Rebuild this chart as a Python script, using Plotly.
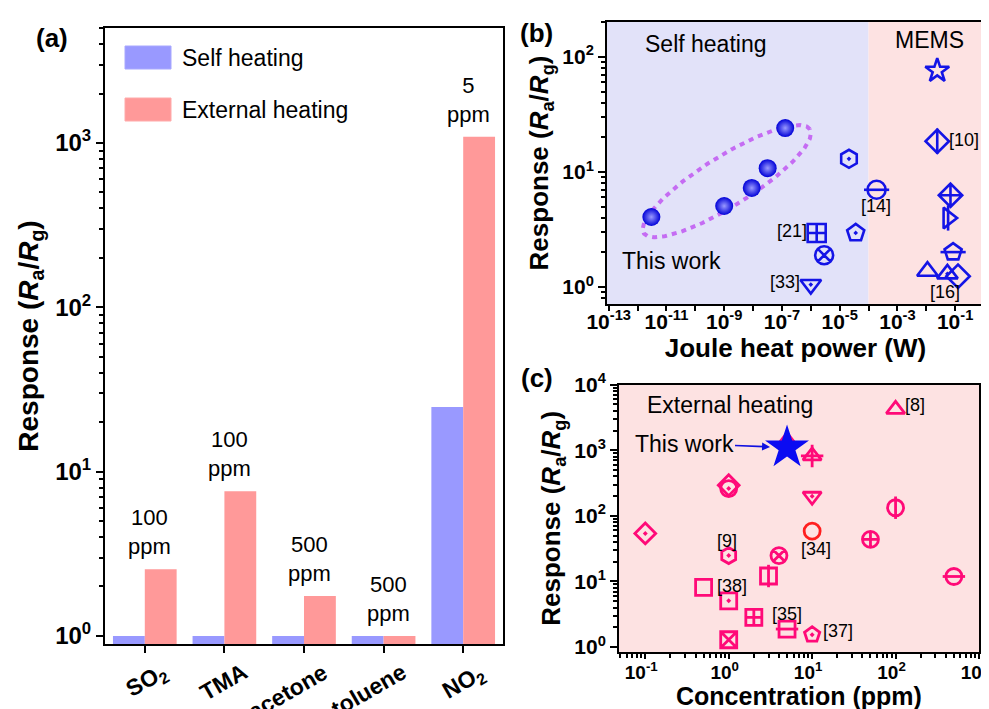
import numpy as np
import plotly.graph_objects as go

W, H = 989, 709
FONT = "Liberation Sans, Arial, sans-serif"

# ---------------- data: panel (a) ----------------
gases = ["SO2", "TMA", "acetone", "toluene", "NO2"]
gas_labels = ["SO<sub>2</sub>", "TMA", "acetone", "toluene", "NO<sub>2</sub>"]
self_heating = [1.0, 1.0, 1.0, 1.0, 24.7]
external_heating = [2.55, 7.6, 1.75, 1.0, 1090.0]
conc_text = ["100<br>ppm", "100<br>ppm", "500<br>ppm", "500<br>ppm", "5<br>ppm"]
a_yticks = [1, 10, 100, 1000]

# ---------------- data: panel (b) ----------------
tw_power = [3.0e-12, 1.0e-9, 9.0e-9, 3.2e-8, 1.3e-7]
tw_resp = [4.06, 5.06, 7.26, 10.8, 24.1]
b_power = [2.1e-5, 3.6e-5, 1.9e-4, 1.6e-6, 2.9e-6, 1.0e-6, 0.024, 0.024,
           0.069, 0.057, 0.085, 0.011, 0.054, 0.126]
b_resp = [13.0, 2.95, 7.0, 2.95, 1.89, 1.05, 76.0, 18.5,
          6.27, 3.98, 2.01, 1.37, 1.30, 1.24]
b_symbols = ["hexagon-open-dot", "pentagon-open-dot", "circle-open", "square-cross-open",
             "circle-x-open", "triangle-down-open-dot", "star-open", "diamond-open",
             "diamond-cross-open", "triangle-right-open", "pentagon-open", "triangle-up-open",
             "triangle-up-open-dot", "diamond-open"]
b_overlay = [None, None, "line-ew-open", None, None, None, None, "line-ns-open",
             None, "line-ns-open", "line-ew-open", None, None, None]
b_label_exp = [-13, -11, -9, -7, -5, -3, -1]
b_minor_exp = [-12, -10, -8, -6, -4, -2, 0]

# ---------------- data: panel (c) ----------------
tw_conc = [5.0]
tw_resp_c = [1100.0]
c_conc = [100, 5, 10, 10, 1, 1, 10, 100, 50, 500, 0.1, 1, 4, 3, 0.5, 1, 2, 5, 10, 1]
c_resp = [4200, 1400, 820, 199, 293, 261, 58.6, 133, 43.8, 11.9, 54, 24.8, 24.8,
          12.1, 8.1, 5.06, 2.83, 1.88, 1.54, 1.29]
c_symbols = ["triangle-up-open", "triangle-up-open", "triangle-up-open", "triangle-down-open-dot",
             "diamond-open", "circle-open-dot", "circle-open", "circle-open", "circle-cross-open",
             "circle-open", "diamond-open-dot", "hexagon-open-dot", "circle-x-open", "square-open",
             "square-open", "square-open-dot", "square-cross-open", "square-open",
             "pentagon-open-dot", "square-x-open"]
c_overlay = [None, None, "cross-thin-open", None, None, None, None, "line-ns-open", None,
             "line-ew-open", None, None, None, "line-ns-open", None, None, None,
             "line-ew-open", None, None]
c_red = [False, False, False, False, False, False, True, False, False, False,
         False, False, False, False, False, False, False, False, False, False]

# ---------------- styles ----------------
SELF_C = "#9999ff"
EXT_C = "#ff9999"
BLUE = "#1414e6"
PINK = "#ff0a78"
RED = "#ff1e1e"
LAV_BG = "#e2e2f9"
PINK_BG = "#fde2e2"


def px(x):
    return x / W


def py(y):
    return 1 - y / H


def sup_label(e):
    return "<b>10<sup>%d</sup></b>" % e


def minor_vals(lo_exp, hi_exp):
    out = []
    for e in range(lo_exp, hi_exp + 1):
        for m in range(2, 10):
            out.append(m * 10.0 ** e)
    return out


fig = go.Figure()

# ---------------- panel (a) bars ----------------
fig.add_trace(go.Bar(x=gases, y=self_heating, name="Self heating", marker_color=SELF_C,
                     marker_line_width=0, xaxis="x", yaxis="y", showlegend=False))
fig.add_trace(go.Bar(x=gases, y=external_heating, name="External heating", marker_color=EXT_C,
                     marker_line_width=0, xaxis="x", yaxis="y", showlegend=False))

# ---------------- panel (b) ----------------
b_range_x = [-13.06, 0.0]
b_range_y = [-0.148, 2.304]
b_dom_x = [599, 976]
b_dom_y = [14, 296]

# dotted ellipse around "This work" (decoration)
sx = (b_dom_x[1] - b_dom_x[0]) / (b_range_x[1] - b_range_x[0])
sy = (b_dom_y[1] - b_dom_y[0]) / (b_range_y[1] - b_range_y[0])
ecx, ecy, ea, eb, eth = -8.91, 0.92, 98.0, 25.0, np.deg2rad(32)
t = np.linspace(0, 2 * np.pi, 300)
ex = 10 ** (ecx + (ea * np.cos(t) * np.cos(eth) - eb * np.sin(t) * np.sin(eth)) / sx)
ey = 10 ** (ecy + (ea * np.cos(t) * np.sin(eth) + eb * np.sin(t) * np.cos(eth)) / sy)
fig.add_trace(go.Scatter(x=ex, y=ey, mode="lines", xaxis="x2", yaxis="y2", showlegend=False,
                         line=dict(color="#c56cf3", width=4, dash="5px,5px"), hoverinfo="skip"))

fig.add_trace(go.Scatter(x=tw_power, y=tw_resp, mode="markers", xaxis="x2", yaxis="y2",
                         showlegend=False, name="This work",
                         marker=dict(symbol="circle", size=18, color="#0000d8",
                                     gradient=dict(type="radial", color="#9a9aff"),
                                     line=dict(width=0))))
fig.add_trace(go.Scatter(x=b_power, y=b_resp, mode="markers", xaxis="x2", yaxis="y2",
                         showlegend=False,
                         marker=dict(symbol=b_symbols, size=18, color=BLUE,
                                     line=dict(width=2.6, color=BLUE))))
b_ov_idx = [i for i, s in enumerate(b_overlay) if s]
fig.add_trace(go.Scatter(x=[b_power[i] for i in b_ov_idx], y=[b_resp[i] for i in b_ov_idx],
                         mode="markers", xaxis="x2", yaxis="y2", showlegend=False,
                         marker=dict(symbol=[b_overlay[i] for i in b_ov_idx], size=18, color=BLUE,
                                     line=dict(width=2.6, color=BLUE))))

# ---------------- panel (c) ----------------
c_colors = [RED if r else PINK for r in c_red]
fig.add_trace(go.Scatter(x=c_conc, y=c_resp, mode="markers", xaxis="x3", yaxis="y3",
                         showlegend=False,
                         marker=dict(symbol=c_symbols, size=16, color=c_colors,
                                     line=dict(width=2.8, color=c_colors))))
c_ov_idx = [i for i, s in enumerate(c_overlay) if s]
fig.add_trace(go.Scatter(x=[c_conc[i] for i in c_ov_idx], y=[c_resp[i] for i in c_ov_idx],
                         mode="markers", xaxis="x3", yaxis="y3", showlegend=False,
                         marker=dict(symbol=[c_overlay[i] for i in c_ov_idx], size=16,
                                     color=[c_colors[i] for i in c_ov_idx],
                                     line=dict(width=2.8, color=[c_colors[i] for i in c_ov_idx]))))
fig.add_trace(go.Scatter(x=tw_conc, y=tw_resp_c, mode="markers", xaxis="x3", yaxis="y3",
                         showlegend=False, name="This work",
                         marker=dict(symbol="star", size=33, color="#0b0bf2", line=dict(width=0))))

# ---------------- axes ----------------
axis_common = dict(showline=True, linecolor="black", linewidth=2, mirror=True, ticks="outside",
                   tickcolor="black", tickwidth=2, ticklen=7, showgrid=False, zeroline=False,
                   automargin=False)
minor_common = dict(ticks="outside", ticklen=4, tickwidth=1.5, tickcolor="black", showgrid=False)

a_range_y = [-0.049, 3.70]
c_range_x = [-1.315, 3.0]
c_range_y = [-0.076, 4.0]
resp_title = "<b>Response (<i>R</i><sub>a</sub>/<i>R</i><sub>g</sub>)</b>"

fig.update_layout(
    width=W, height=H, margin=dict(l=0, r=0, t=0, b=0, pad=0, autoexpand=False),
    paper_bgcolor="white", plot_bgcolor="rgba(0,0,0,0)",
    font=dict(family=FONT, color="black"),
    barmode="group", bargap=0.2, bargroupgap=0, showlegend=False,
    xaxis=dict(axis_common, domain=[px(97), px(495)], anchor="y", type="category",
               range=[-0.5, 4.5], showticklabels=False),
    yaxis=dict(axis_common, domain=[py(636), py(20)], anchor="x", type="log", range=a_range_y,
               tickvals=a_yticks, ticktext=[sup_label(int(np.log10(v))) for v in a_yticks],
               tickfont=dict(size=24, family=FONT),
               minor=dict(minor_common, tickvals=minor_vals(0, 3)),
               title=dict(text=resp_title, font=dict(size=28, family=FONT), standoff=8)),
    xaxis2=dict(axis_common, domain=[px(b_dom_x[0]), px(b_dom_x[1])], anchor="y2", type="log",
                range=b_range_x, ticklen=5, ticklabelstandoff=-7,
                tickvals=[10.0 ** e for e in b_label_exp],
                ticktext=[sup_label(e) for e in b_label_exp],
                tickfont=dict(size=21, family=FONT),
                minor=dict(minor_common, tickvals=[10.0 ** e for e in b_minor_exp], ticklen=5,
                           tickwidth=2),
                title=dict(text="<b>Joule heat power (W)</b>", font=dict(size=26, family=FONT),
                           standoff=0)),
    yaxis2=dict(axis_common, domain=[py(b_dom_y[1]), py(b_dom_y[0])], anchor="x2", type="log",
                range=b_range_y, tickvals=[1, 10, 100],
                ticktext=[sup_label(e) for e in [0, 1, 2]],
                tickfont=dict(size=21, family=FONT),
                minor=dict(minor_common, tickvals=minor_vals(-1, 2)),
                title=dict(text=resp_title, font=dict(size=26, family=FONT), standoff=6)),
    xaxis3=dict(axis_common, domain=[px(611), px(971)], anchor="y3", type="log",
                range=c_range_x, ticklen=5, ticklabelstandoff=-3, ticklabelshift=-4,
                tickvals=[0.1, 1, 10, 100, 1000],
                ticktext=[sup_label(e) for e in [-1, 0, 1, 2, 3]],
                tickfont=dict(size=19, family=FONT),
                minor=dict(minor_common, tickvals=minor_vals(-2, 2))),
    yaxis3=dict(axis_common, domain=[py(644), py(376.7)], anchor="x3", type="log",
                range=c_range_y, tickvals=[1, 10, 100, 1000, 10000],
                ticktext=[sup_label(e) for e in [0, 1, 2, 3, 4]],
                tickfont=dict(size=21, family=FONT),
                minor=dict(minor_common, tickvals=minor_vals(0, 3)),
                title=dict(text=resp_title, font=dict(size=26, family=FONT), standoff=6)),
)

# ---------------- background shapes ----------------
shapes = [
    dict(type="rect", xref="x2", yref="y2 domain", x0=10 ** b_range_x[0], x1=1e-4, y0=0, y1=1,
         fillcolor=LAV_BG, line_width=0, layer="below"),
    dict(type="rect", xref="x2", yref="y2 domain", x0=1e-4, x1=10 ** b_range_x[1], y0=0, y1=1,
         fillcolor=PINK_BG, line_width=0, layer="below"),
    dict(type="rect", xref="x3 domain", yref="y3 domain", x0=0, x1=1, y0=0, y1=1,
         fillcolor=PINK_BG, line_width=0, layer="below"),
    # legend swatches for panel (a)
    dict(type="rect", xref="paper", yref="paper", x0=px(117), x1=px(163), y0=py(61), y1=py(38),
         fillcolor=SELF_C, line=dict(color="#a8a8ff", width=1)),
    dict(type="rect", xref="paper", yref="paper", x0=px(117), x1=px(163), y0=py(113), y1=py(90),
         fillcolor=EXT_C, line=dict(color="#ffaaaa", width=1)),
]
fig.update_layout(shapes=shapes)

ann = []


def txt(x, y, s, size=23, xanchor="left", bold=False):
    ann.append(dict(x=px(x), y=py(y), xref="paper", yref="paper", text=("<b>%s</b>" % s) if bold else s,
                    showarrow=False, xanchor=xanchor, yanchor="middle",
                    font=dict(size=size, family=FONT, color="black")))


# panel labels
txt(43.5, 30, "(a)", size=26, xanchor="center", bold=True)
txt(528, 25, "(b)", size=26, xanchor="center", bold=True)
txt(529, 370, "(c)", size=26, xanchor="center", bold=True)

# x-axis title of panel (c)
txt(791, 688, "Concentration (ppm)", size=25, xanchor="center", bold=True)

# legend texts panel (a)
txt(172, 50, "Self heating")
txt(172, 102, "External heating")

# gas category labels (rotated)
for g, lab in zip(gases, gas_labels):
    ann.append(dict(x=g, xref="x", y=py(648), yref="paper", text="<b>%s</b>" % lab,
                    showarrow=False, textangle=-30, xanchor="right", yanchor="top", xshift=30,
                    font=dict(size=23, family=FONT, color="black")))

# concentration labels above external heating bars
for g, v, s in zip(gases, external_heating, conc_text):
    ann.append(dict(x=g, xref="x", y=np.log10(v), yref="y", text=s, showarrow=False,
                    xanchor="center", yanchor="bottom", xshift=5, yshift=8,
                    font=dict(size=22, family=FONT, color="black")))

# panel (b) texts
txt(635, 36, "Self heating")
txt(885, 32, "MEMS")
txt(611.7, 253, "This work")
for s, (x, y) in zip(["[21]", "[33]", "[14]", "[10]", "[16]"],
                     [(784.3, 223.3), (776.7, 274), (868.3, 198.3), (956, 131.7), (937.3, 284)]):
    txt(x, y, s, size=18, xanchor="center")

# panel (c) texts
txt(637.3, 397, "External heating")
ann.append(dict(x=np.log10(tw_conc[0]), y=np.log10(tw_resp_c[0]), xref="x3", yref="y3",
                text="This work", showarrow=True, ax=-103, ay=-4, arrowhead=2, arrowsize=1,
                arrowwidth=1.6, arrowcolor="#1010e0", standoff=17,
                font=dict(size=23, family=FONT, color="black")))
for s, (x, y) in zip(["[8]", "[9]", "[34]", "[38]", "[35]", "[37]"],
                     [(906.7, 396.7), (719.3, 532.7), (807.7, 541), (724, 578.3),
                      (779, 605.7), (830, 623.3)]):
    txt(x, y, s, size=18, xanchor="center")

fig.update_layout(annotations=ann)

fig.write_html("out.html")
